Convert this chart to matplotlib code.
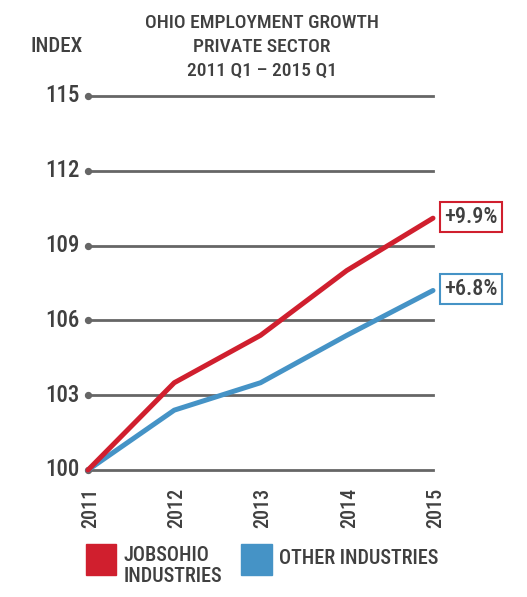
import numpy as np
import matplotlib
matplotlib.use('Agg')
import matplotlib.pyplot as plt
from matplotlib import font_manager

# pick a narrow font if one is installed
names = set(f.name for f in font_manager.fontManager.ttflist)
fam = 'DejaVu Sans'
for cand in ['Roboto Condensed', 'Liberation Sans Narrow', 'DejaVu Sans Condensed', 'Open Sans Condensed']:
    if cand in names:
        fam = cand
        break
plt.rcParams['font.family'] = [fam, 'DejaVu Sans']
plt.rcParams['font.weight'] = 'medium'

years = [2011, 2012, 2013, 2014, 2015]
jobsohio = [100, 103.5, 105.4, 108.0, 110.1]
other = [100, 102.4, 103.5, 105.4, 107.2]
yticks = [100, 103, 106, 109, 112, 115]
pct_labels = ['+9.9%', '+6.8%']

c_red = '#d01f2e'
c_blue = '#4593c6'
c_grid = '#666666'
c_txt = '#404040'

W, H = 527, 597
fig = plt.figure(figsize=(W/100, H/100), dpi=100)
ax = fig.add_axes([88/W, 1-470/H, (433-88)/W, (470-96)/H])
ax.set_xlim(2011, 2015)
ax.set_ylim(100, 115)
ax.axis('off')

for yv in yticks:
    ax.plot([2011, 2015], [yv, yv], color=c_grid, lw=2, zorder=1, clip_on=False)
    ax.text(2011 - 0.1, yv, str(yv), ha='right', va='center', fontsize=16.5, color=c_txt)
ax.scatter([2011]*len(yticks), yticks, s=18, color=c_grid, zorder=2, clip_on=False)

ax.plot(years, other, color=c_blue, lw=3.6, zorder=3, clip_on=False, solid_capstyle='round')
ax.plot(years, jobsohio, color=c_red, lw=3.6, zorder=4, clip_on=False, solid_capstyle='round')

for yv, lab, col in [(jobsohio[-1], pct_labels[0], c_red), (other[-1], pct_labels[1], c_blue)]:
    ax.annotate(lab, (years[-1], yv), xytext=(8, 1), textcoords='offset points',
                ha='left', va='center', fontsize=16, color=c_txt,
                bbox=dict(boxstyle='square,pad=0.18', fc='white', ec=col, lw=1.5))

for yr in years:
    ax.text(yr + 0.03, 99.3, str(yr), rotation=90, ha='center', va='top', fontsize=14.5, color=c_txt)

fig.text(262/W, 1-47/H, 'OHIO EMPLOYMENT GROWTH\nPRIVATE SECTOR\n2011 Q1 \u2013 2015 Q1',
         ha='center', va='center', fontsize=14, color=c_txt, linespacing=1.45)
fig.text(31/W, 1-46/H, 'INDEX', ha='left', va='center', fontsize=15, color=c_txt)

# legend
fig.patches.append(plt.Rectangle((86/W, 1-575/H), 30/W, 31/H, transform=fig.transFigure,
                                 color=c_red, figure=fig))
fig.text(124/W, 1-546/H, 'JOBSOHIO\nINDUSTRIES', ha='left', va='top', fontsize=14.5,
         color=c_txt, linespacing=1.15)
fig.patches.append(plt.Rectangle((241/W, 1-575/H), 31/W, 31/H, transform=fig.transFigure,
                                 color=c_blue, figure=fig))
fig.text(279/W, 1-559/H, 'OTHER INDUSTRIES', ha='left', va='center', fontsize=14.5, color=c_txt)

fig.savefig('out.png', dpi=100)
